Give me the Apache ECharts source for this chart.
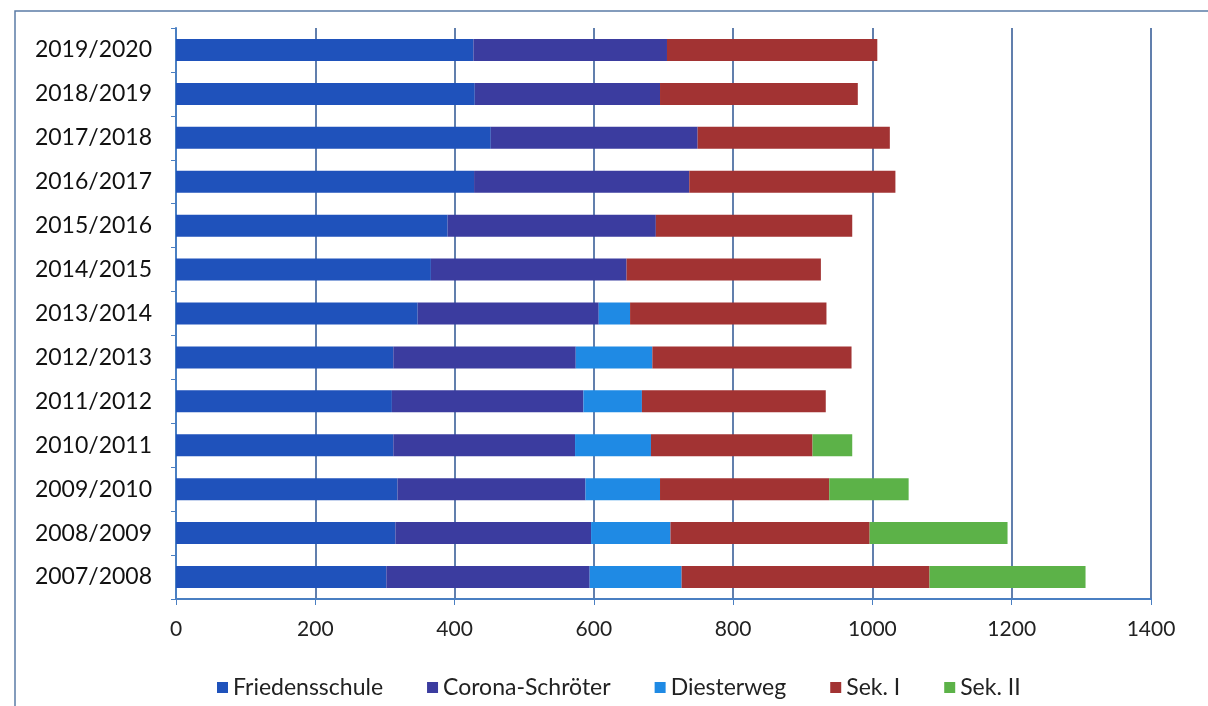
<!DOCTYPE html>
<html><head><meta charset="utf-8">
<script src="https://cdn.jsdelivr.net/npm/echarts@6/dist/echarts.min.js"></script>
<style>html,body{margin:0;padding:0;background:#fff}#c{width:1208px;height:706px}</style>
</head><body><div id="c"></div>
<script>
const categories = ['2007/2008','2008/2009','2009/2010','2010/2011','2011/2012','2012/2013','2013/2014','2014/2015','2015/2016','2016/2017','2017/2018','2018/2019','2019/2020'];
const friedensschule = [302,315,318,312,310,312,347,366,390,428,452,429,427];
const coronaSchroeter = [292,281,270,261,275,262,260,281,299,309,297,266,278];
const diesterweg = [132,114,107,109,84,110,45,0,0,0,0,0,0];
const sek1 = [356,286,243,232,264,286,282,279,282,296,276,284,302];
const sek2 = [224,198,114,57,0,0,0,0,0,0,0,0,0];
const xTicks = [0,200,400,600,800,1000,1200,1400];

const names = ['Friedensschule','Corona-Schröter','Diesterweg','Sek. I','Sek. II'];
const colors = ['#1f52bb','#3b3c9f','#1f8ae4','#a23333','#5cb248'];
const datas = [friedensschule, coronaSchroeter, diesterweg, sek1, sek2];

const chart = echarts.init(document.getElementById('c'));
chart.setOption({
  backgroundColor:'#fff',
  animation:false,
  textStyle:{fontFamily:'Lato'},
  graphic:[{type:'rect',shape:{x:15,y:11,width:1200,height:700},style:{fill:'none',stroke:'#5b7ca6',lineWidth:1.5}}],
  legend:{bottom:2,left:212,itemWidth:11,itemHeight:11,itemGap:44,icon:'rect',
    textStyle:{fontSize:23,color:'#222',fontFamily:'Lato'},data:names},
  grid:{left:176,right:57,top:28,bottom:107},
  xAxis:{type:'value',min:0,max:1400,interval:200,
    axisLine:{show:true,lineStyle:{color:'#4a7fc2',width:2}},
    axisTick:{show:true,length:6,lineStyle:{color:'#4a7fc2'}},
    axisLabel:{fontSize:21,color:'#222',margin:20,fontFamily:'Lato',
      formatter:v=>xTicks.includes(v)?String(v):''},
    splitLine:{show:true,lineStyle:{color:'#2c5592',width:1.5}}},
  yAxis:{type:'category',data:categories,
    axisLine:{show:true,lineStyle:{color:'#4a7fc2',width:2}},
    axisTick:{show:true,length:5,lineStyle:{color:'#4a7fc2'}},
    axisLabel:{fontSize:23,color:'#111',margin:24,fontFamily:'Lato'}},
  series:datas.map((d,i)=>({name:names[i],type:'bar',stack:'t',data:d,barWidth:22,
    itemStyle:{color:colors[i]}}))
});
</script></body></html>
